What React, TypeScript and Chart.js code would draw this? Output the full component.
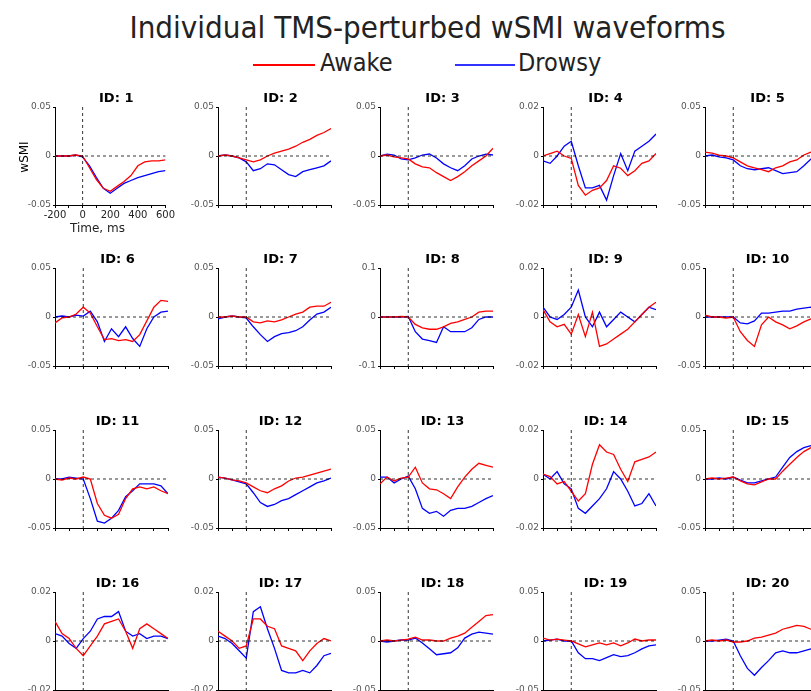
import React, { useEffect, useRef } from "react";
import { Chart, registerables } from "chart.js";
Chart.register(...registerables);

const times = [-200, -150, -100, -50, 0, 50, 100, 150, 200, 250, 300, 350, 400, 450, 500, 550, 600];
const ids = [1, 2, 3, 4, 5, 6, 7, 8, 9, 10, 11, 12, 13, 14, 15, 16, 17, 18, 19, 20];
const yLimits = [0.05, 0.05, 0.05, 0.02, 0.05, 0.05, 0.05, 0.1, 0.02, 0.05, 0.05, 0.05, 0.05, 0.02, 0.05, 0.02, 0.02, 0.05, 0.05, 0.05];

const awake1 = [0, 0, 0, 0.001, 0, -0.012, -0.024, -0.033, -0.036, -0.031, -0.026, -0.02, -0.01, -0.006, -0.005, -0.005, -0.004];
const drowsy1 = [0, 0, 0, 0.001, -0.001, -0.01, -0.022, -0.033, -0.038, -0.033, -0.028, -0.025, -0.022, -0.02, -0.018, -0.016, -0.015];
const awake2 = [0, 0.001, 0, -0.002, -0.004, -0.006, -0.004, 0, 0.003, 0.005, 0.007, 0.01, 0.014, 0.017, 0.021, 0.024, 0.028];
const drowsy2 = [0, 0.001, 0, -0.002, -0.006, -0.015, -0.013, -0.008, -0.009, -0.014, -0.019, -0.021, -0.016, -0.014, -0.012, -0.01, -0.005];
const awake3 = [0, 0.001, -0.001, -0.002, -0.003, -0.008, -0.011, -0.012, -0.017, -0.021, -0.025, -0.021, -0.016, -0.01, -0.005, 0, 0.008];
const drowsy3 = [0, 0.002, 0.001, -0.003, -0.004, -0.002, 0.001, 0.002, -0.002, -0.008, -0.012, -0.015, -0.01, -0.003, 0, 0.002, 0.001];
const awake4 = [0, 0.001, 0.002, 0, -0.001, -0.012, -0.016, -0.014, -0.013, -0.01, -0.004, -0.005, -0.008, -0.006, -0.003, -0.002, 0.001];
const drowsy4 = [-0.002, -0.003, 0, 0.004, 0.006, -0.004, -0.013, -0.013, -0.012, -0.018, -0.008, 0.001, -0.006, 0.002, 0.004, 0.006, 0.009];
const awake5 = [0.004, 0.003, 0.001, 0, -0.002, -0.006, -0.01, -0.012, -0.014, -0.016, -0.012, -0.01, -0.006, -0.004, 0.001, 0.004, 0.006];
const drowsy5 = [0, 0.001, -0.001, -0.002, -0.004, -0.01, -0.013, -0.014, -0.013, -0.012, -0.015, -0.018, -0.017, -0.016, -0.01, -0.003, 0];
const awake6 = [-0.006, -0.001, 0, 0.003, 0.01, 0.004, -0.01, -0.023, -0.022, -0.024, -0.023, -0.025, -0.018, -0.004, 0.01, 0.017, 0.016];
const drowsy6 = [0, 0.001, 0, 0.002, 0.001, 0.006, -0.005, -0.025, -0.012, -0.02, -0.01, -0.022, -0.03, -0.012, 0, 0.005, 0.006];
const awake7 = [0, 0, 0.001, 0, 0, -0.005, -0.006, -0.004, -0.005, -0.003, 0, 0.003, 0.005, 0.01, 0.011, 0.011, 0.015];
const drowsy7 = [-0.002, 0, 0.001, 0, -0.001, -0.01, -0.018, -0.025, -0.02, -0.017, -0.016, -0.014, -0.01, -0.003, 0.003, 0.005, 0.01];
const awake8 = [0, 0, 0, 0.001, 0, -0.015, -0.022, -0.025, -0.025, -0.02, -0.013, -0.01, -0.005, 0, 0.01, 0.012, 0.012];
const drowsy8 = [0, 0, 0, 0, 0.001, -0.03, -0.045, -0.048, -0.052, -0.02, -0.03, -0.03, -0.03, -0.022, -0.005, 0, 0];
const awake9 = [0.003, -0.002, -0.004, -0.003, -0.007, 0.001, -0.008, 0.002, -0.012, -0.011, -0.009, -0.007, -0.005, -0.002, 0.001, 0.004, 0.006];
const drowsy9 = [0.004, 0, -0.001, 0.001, 0.004, 0.011, 0, -0.004, 0.002, -0.004, -0.001, 0.002, 0, -0.002, 0.001, 0.004, 0.003];
const awake10 = [0.002, 0, 0, -0.001, 0, -0.015, -0.024, -0.03, -0.008, 0, -0.005, -0.008, -0.012, -0.009, -0.005, -0.002, 0];
const drowsy10 = [0, 0, 0, 0, 0, -0.006, -0.007, -0.004, 0.004, 0.004, 0.005, 0.006, 0.006, 0.008, 0.009, 0.01, 0.009];
const awake11 = [0, -0.001, 0.001, 0, 0.002, 0, -0.025, -0.037, -0.04, -0.036, -0.02, -0.01, -0.008, -0.01, -0.008, -0.012, -0.015];
const drowsy11 = [0, 0, 0.002, 0.001, 0, -0.02, -0.043, -0.045, -0.04, -0.032, -0.018, -0.012, -0.005, -0.005, -0.005, -0.007, -0.015];
const awake12 = [0.002, 0.001, -0.001, -0.002, -0.004, -0.008, -0.012, -0.014, -0.01, -0.007, -0.002, 0.001, 0.002, 0.004, 0.006, 0.008, 0.01];
const drowsy12 = [0.002, 0.001, -0.001, -0.003, -0.005, -0.014, -0.024, -0.028, -0.026, -0.022, -0.02, -0.016, -0.012, -0.008, -0.004, -0.002, 0.001];
const awake13 = [-0.005, 0.002, -0.002, 0.001, 0.002, 0.012, -0.004, -0.01, -0.011, -0.015, -0.02, -0.008, 0.002, 0.01, 0.016, 0.014, 0.012];
const drowsy13 = [0.002, 0.002, -0.004, 0, 0.003, -0.01, -0.03, -0.035, -0.033, -0.038, -0.032, -0.03, -0.03, -0.028, -0.024, -0.02, -0.017];
const awake14 = [0.002, 0.001, -0.002, -0.001, -0.005, -0.009, -0.006, 0.006, 0.014, 0.011, 0.01, 0.004, -0.001, 0.007, 0.008, 0.009, 0.011];
const drowsy14 = [0.002, 0, 0.003, -0.002, -0.004, -0.012, -0.014, -0.011, -0.008, -0.004, 0.003, 0, -0.005, -0.011, -0.01, -0.006, -0.011];
const awake15 = [0, 0.001, 0, 0.001, 0.002, -0.002, -0.005, -0.006, -0.003, 0, 0, 0.008, 0.015, 0.022, 0.028, 0.032, 0.035];
const drowsy15 = [0, 0, 0.001, 0, 0.002, -0.001, -0.004, -0.004, -0.002, 0, 0.002, 0.012, 0.022, 0.028, 0.032, 0.034, 0.036];
const awake16 = [0.008, 0.003, 0.001, -0.003, -0.006, -0.002, 0.002, 0.007, 0.008, 0.009, 0.004, -0.003, 0.005, 0.007, 0.005, 0.003, 0.001];
const drowsy16 = [0.003, 0.002, -0.001, -0.003, 0.001, 0.004, 0.009, 0.01, 0.01, 0.012, 0.004, 0.002, 0.003, 0.001, 0.002, 0.002, 0.001];
const awake17 = [0.004, 0.002, 0, -0.003, -0.002, 0.009, 0.009, 0.006, 0.005, -0.002, -0.003, -0.004, -0.008, -0.004, -0.001, 0.001, 0];
const drowsy17 = [0.002, 0.001, -0.001, -0.004, -0.007, 0.012, 0.014, 0.005, -0.003, -0.012, -0.013, -0.013, -0.012, -0.013, -0.01, -0.006, -0.005];
const awake18 = [0, 0.001, 0, 0.001, 0.002, 0.004, 0.001, 0.001, 0, 0, 0.003, 0.005, 0.008, 0.014, 0.02, 0.026, 0.027];
const drowsy18 = [0, -0.001, 0, 0.001, 0.001, 0.003, -0.002, -0.008, -0.014, -0.013, -0.012, -0.007, 0.003, 0.007, 0.009, 0.008, 0.007];
const awake19 = [0.003, 0.001, 0.002, 0.001, 0, -0.003, -0.006, -0.004, -0.002, -0.004, -0.002, -0.005, -0.002, 0.002, 0, 0.001, 0.001];
const drowsy19 = [0, 0.001, 0.002, 0, 0, -0.012, -0.018, -0.018, -0.02, -0.017, -0.014, -0.016, -0.015, -0.012, -0.008, -0.005, -0.004];
const awake20 = [0, 0.001, 0, 0.001, -0.001, -0.001, 0, 0.003, 0.004, 0.006, 0.008, 0.012, 0.014, 0.016, 0.015, 0.012, 0.01];
const drowsy20 = [0, 0, 0.001, 0.002, 0, -0.015, -0.028, -0.035, -0.027, -0.02, -0.012, -0.01, -0.012, -0.012, -0.01, -0.008, -0.006];

const awakeAll = [awake1, awake2, awake3, awake4, awake5, awake6, awake7, awake8, awake9, awake10, awake11, awake12, awake13, awake14, awake15, awake16, awake17, awake18, awake19, awake20];
const drowsyAll = [drowsy1, drowsy2, drowsy3, drowsy4, drowsy5, drowsy6, drowsy7, drowsy8, drowsy9, drowsy10, drowsy11, drowsy12, drowsy13, drowsy14, drowsy15, drowsy16, drowsy17, drowsy18, drowsy19, drowsy20];

const colLeft = [55, 218, 380, 543, 705];
const rowTop = [107, 268, 430, 592];
const PW = 113, PH = 98, YW = 45, TOP = 25, BOT = 30, RP = 8;
const FONT = "'DejaVu Sans', Verdana, sans-serif";
const COND = "'DejaVu Sans Condensed', 'Liberation Sans Narrow', 'DejaVu Sans', sans-serif";

const decor = {
  id: "decor",
  afterDatasetsDraw(chart: any, _a: any, opts: any) {
    const { ctx, chartArea, scales } = chart;
    const x0 = scales.x.getPixelForValue(0);
    const y0 = scales.y.getPixelForValue(0);
    ctx.save();
    ctx.strokeStyle = "#000";
    ctx.lineWidth = 0.8;
    ctx.setLineDash([3, 3]);
    ctx.beginPath();
    ctx.moveTo(chartArea.left, y0);
    ctx.lineTo(chartArea.right, y0);
    ctx.moveTo(x0, chartArea.top);
    ctx.lineTo(x0, chartArea.bottom);
    ctx.stroke();
    ctx.setLineDash([]);
    ctx.fillStyle = "#000";
    ctx.font = `bold 13px ${FONT}`;
    ctx.textAlign = "center";
    ctx.textBaseline = "alphabetic";
    ctx.fillText(opts.title, (chartArea.left + chartArea.right) / 2 + 6, chartArea.top - 5);
    ctx.restore();
  },
};

function Panel({ i }: { i: number }) {
  const ref = useRef<HTMLCanvasElement>(null);
  useEffect(() => {
    const lim = yLimits[i];
    const first = i === 0;
    const mk = (arr: number[]) => times.map((t, k) => ({ x: t, y: arr[k] }));
    const chart = new Chart(ref.current!, {
      type: "line",
      data: {
        datasets: [
          { data: mk(awakeAll[i]), borderColor: "#ff0000", borderWidth: 1.3, pointRadius: 0, tension: 0 },
          { data: mk(drowsyAll[i]), borderColor: "#0000ff", borderWidth: 1.3, pointRadius: 0, tension: 0 },
        ],
      },
      options: {
        animation: false,
        responsive: false,
        layout: { padding: { top: TOP, right: RP, left: 0, bottom: 0 } },
        plugins: { legend: { display: false }, tooltip: { enabled: false }, decor: { title: `ID: ${ids[i]}` } } as any,
        scales: {
          x: {
            type: "linear",
            min: -200,
            max: 600,
            afterFit: (s: any) => { s.height = BOT; },
            ticks: {
              stepSize: 100,
              autoSkip: false,
              maxRotation: 0,
              padding: 1,
              color: "#222",
              font: { family: FONT, size: 10 },
              callback: (v: any) => (first && Number(v) % 200 === 0 ? String(v) : ""),
            },
            grid: { drawOnChartArea: false, tickLength: 3, color: "#000" },
            border: { color: "#000" },
          },
          y: {
            min: -lim,
            max: lim,
            afterFit: (s: any) => { s.width = YW; },
            afterBuildTicks: (s: any) => { s.ticks = [{ value: -lim }, { value: 0 }, { value: lim }]; },
            ticks: {
              color: "#555",
              padding: 2,
              font: { family: FONT, size: 9 },
              callback: (v: any) => (Number(v) === 0 ? "0" : String(v)),
            },
            grid: { drawOnChartArea: false, tickLength: 2, color: "#000" },
            border: { color: "#000" },
          },
        },
      },
      plugins: [decor],
    });
    return () => chart.destroy();
  }, [i]);
  const c = i % 5, r = Math.floor(i / 5);
  return (
    <canvas
      ref={ref}
      width={YW + PW + RP}
      height={TOP + PH + BOT}
      style={{ position: "absolute", left: colLeft[c] - YW, top: rowTop[r] - TOP, width: YW + PW + RP, height: TOP + PH + BOT }}
    />
  );
}

export default function App() {
  return (
    <div style={{ position: "absolute", left: 0, top: 0, width: 811, height: 691, overflow: "hidden", background: "#fff", fontFamily: FONT }}>
      <div style={{ position: "absolute", left: 0, width: 855, top: 9, textAlign: "center", fontSize: 31, fontFamily: COND, color: "#222" }}>
        Individual TMS-perturbed wSMI waveforms
      </div>
      <div style={{ position: "absolute", left: 253, top: 64, width: 62, height: 2, background: "#ff0000" }} />
      <div style={{ position: "absolute", left: 320, top: 48, fontSize: 25, fontFamily: COND, color: "#222" }}>Awake</div>
      <div style={{ position: "absolute", left: 455, top: 64, width: 60, height: 2, background: "#3333ff" }} />
      <div style={{ position: "absolute", left: 518, top: 48, fontSize: 25, fontFamily: COND, color: "#222" }}>Drowsy</div>
      {ids.map((_, i) => <Panel key={i} i={i} />)}
      <div style={{ position: "absolute", left: 4, top: 150, fontSize: 12, transform: "rotate(-90deg)", transformOrigin: "center", width: 40, textAlign: "center" }}>wSMI</div>
      <div style={{ position: "absolute", left: 70, top: 221, fontSize: 12, color: "#222" }}>Time, ms</div>
    </div>
  );
}
